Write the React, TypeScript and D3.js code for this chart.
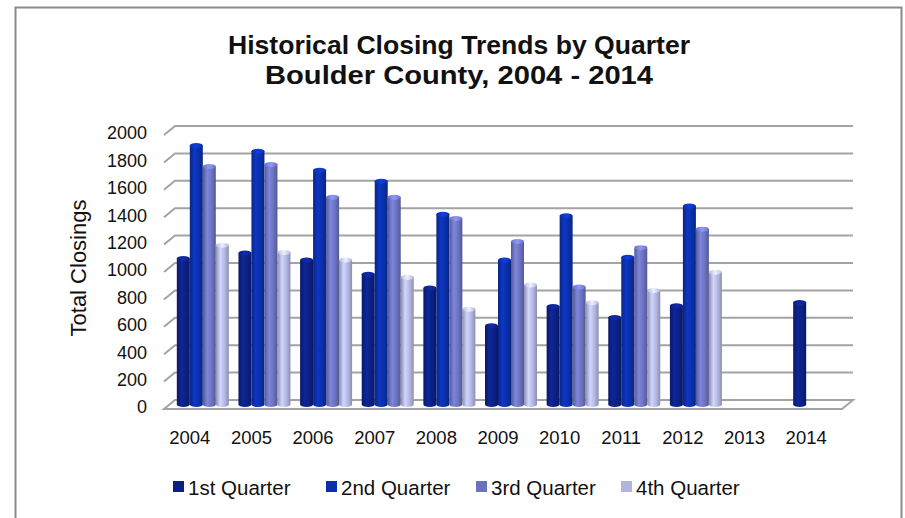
import React from 'react';
import * as d3 from 'd3';

const years = ['2004', '2005', '2006', '2007', '2008', '2009', '2010', '2011', '2012', '2013', '2014'];
const quarters = ['1st Quarter', '2nd Quarter', '3rd Quarter', '4th Quarter'];
const q1 = [1065, 1105, 1055, 950, 850, 575, 715, 635, 720, null, 745];
const q2 = [1890, 1848, 1710, 1630, 1388, 1055, 1378, 1075, 1448, null, null];
const q3 = [1738, 1752, 1512, 1512, 1358, 1190, 858, 1145, 1280, null, null];
const q4 = [1162, 1110, 1055, 928, 695, 872, 742, 832, 966, null, null];
const yTicks = [0, 200, 400, 600, 800, 1000, 1200, 1400, 1600, 1800, 2000];

const series = [q1, q2, q3, q4];
const baseColors = ['#0c2082', '#0b2fa8', '#6b72bd', '#b2b6de'];

const W = 905;
const H = 518;
// back wall geometry
const backLeft = 175;
const backRight = 853;
const backBottom = 400;
const backTop = 126;
// depth offsets
const dX = -11;
const dY = 9;
const midX = -4;
const midY = 4.5;

export default function App() {
  const x = d3.scaleBand<string>().domain(years).range([backLeft, backRight]).paddingInner(0).paddingOuter(0);
  const yBack = d3.scaleLinear().domain([0, 2000]).range([backBottom, backTop]);
  const barW = 13;
  const groupW = barW * 4;
  const xq = d3.scaleBand<number>().domain([0, 1, 2, 3]).range([0, groupW]).padding(0);

  const bars: JSX.Element[] = [];
  years.forEach((yr, i) => {
    series.forEach((s, qi) => {
      const v = s[i];
      if (v == null) return;
      const x0 = (x(yr) as number) + midX + (x.bandwidth() - groupW) / 2 + 1 + (xq(qi) as number);
      const yTop = yBack(v) + midY;
      const yBase = yBack(0) + midY;
      const ry = 2.5;
      bars.push(
        <g key={`${yr}-${qi}`}>
          <path
            d={`M${x0},${yTop} L${x0},${yBase} A${barW / 2},${ry} 0 0 0 ${x0 + barW},${yBase} L${x0 + barW},${yTop} Z`}
            fill={`url(#grad${qi})`}
          />
          <ellipse cx={x0 + barW / 2} cy={yTop} rx={barW / 2} ry={ry} fill={`url(#top${qi})`} />
        </g>
      );
    });
  });

  const grads = baseColors.map((c, qi) => {
    const col = d3.color(c) as d3.RGBColor;
    const dark = col.darker(0.7).formatHex();
    const light = col.brighter(0.45).formatHex();
    return (
      <React.Fragment key={qi}>
        <linearGradient id={`grad${qi}`} x1="0" x2="1" y1="0" y2="0">
          <stop offset="0%" stopColor={dark} />
          <stop offset="35%" stopColor={light} />
          <stop offset="70%" stopColor={c} />
          <stop offset="100%" stopColor={dark} />
        </linearGradient>
        <linearGradient id={`top${qi}`} x1="0" x2="1" y1="0" y2="0">
          <stop offset="0%" stopColor={c} />
          <stop offset="50%" stopColor={col.brighter(0.8).formatHex()} />
          <stop offset="100%" stopColor={c} />
        </linearGradient>
      </React.Fragment>
    );
  });

  const gridColor = '#a3a3a3';

  return (
    <svg
      width={W}
      height={H}
      style={{ position: 'absolute', left: 0, top: 0, background: '#fff' }}
      fontFamily="'Liberation Sans', Arial, sans-serif"
    >
      <defs>{grads}</defs>
      <rect x={0} y={0} width={W} height={H} fill="#fff" />
      <rect x={15.5} y={7.5} width={886} height={530} fill="none" stroke="#8a8a8a" strokeWidth={2} />

      <text x={459} y={54} textAnchor="middle" fontSize={26} fontWeight="bold" fill="#111" textLength={462} lengthAdjust="spacingAndGlyphs">
        Historical Closing Trends by Quarter
      </text>
      <text x={459} y={84} textAnchor="middle" fontSize={26} fontWeight="bold" fill="#111" textLength={388} lengthAdjust="spacingAndGlyphs">
        Boulder County, 2004 - 2014
      </text>

      {/* gridlines */}
      {yTicks.map((t) =>
        t === 0 ? null : (
          <path
            key={t}
            d={`M${backLeft + dX},${yBack(t) + dY} L${backLeft},${yBack(t)} L${backRight},${yBack(t)}`}
            fill="none"
            stroke={gridColor}
            strokeWidth={2}
          />
        )
      )}
      {/* floor */}
      <path
        d={`M${backLeft + dX},${yBack(0) + dY} L${backLeft},${yBack(0)} L${backRight},${yBack(0)} L${backRight + dX},${yBack(0) + dY} Z`}
        fill="#fff"
        stroke={gridColor}
        strokeWidth={2}
      />

      {bars}

      {/* y tick labels */}
      {yTicks.map((t) => (
        <text key={t} x={147} y={yBack(t) + 7} dy="0.35em" textAnchor="end" fontSize={18} fill="#111">
          {t}
        </text>
      ))}

      <text transform={`translate(86,268) rotate(-90)`} textAnchor="middle" fontSize={22} fill="#111">
        Total Closings
      </text>

      {/* x labels */}
      {years.map((yr) => (
        <text key={yr} x={(x(yr) as number) + dX + x.bandwidth() / 2 - 5} y={444} textAnchor="middle" fontSize={18.5} fill="#111">
          {yr}
        </text>
      ))}

      {/* legend */}
      {quarters.map((q, qi) => {
        const lx = [173, 326, 476, 621][qi];
        return (
          <g key={q}>
            <rect x={lx} y={481} width={11} height={11} fill={baseColors[qi]} />
            <text x={lx + 15} y={494.5} fontSize={20.5} fill="#111">
              {q}
            </text>
          </g>
        );
      })}
    </svg>
  );
}
